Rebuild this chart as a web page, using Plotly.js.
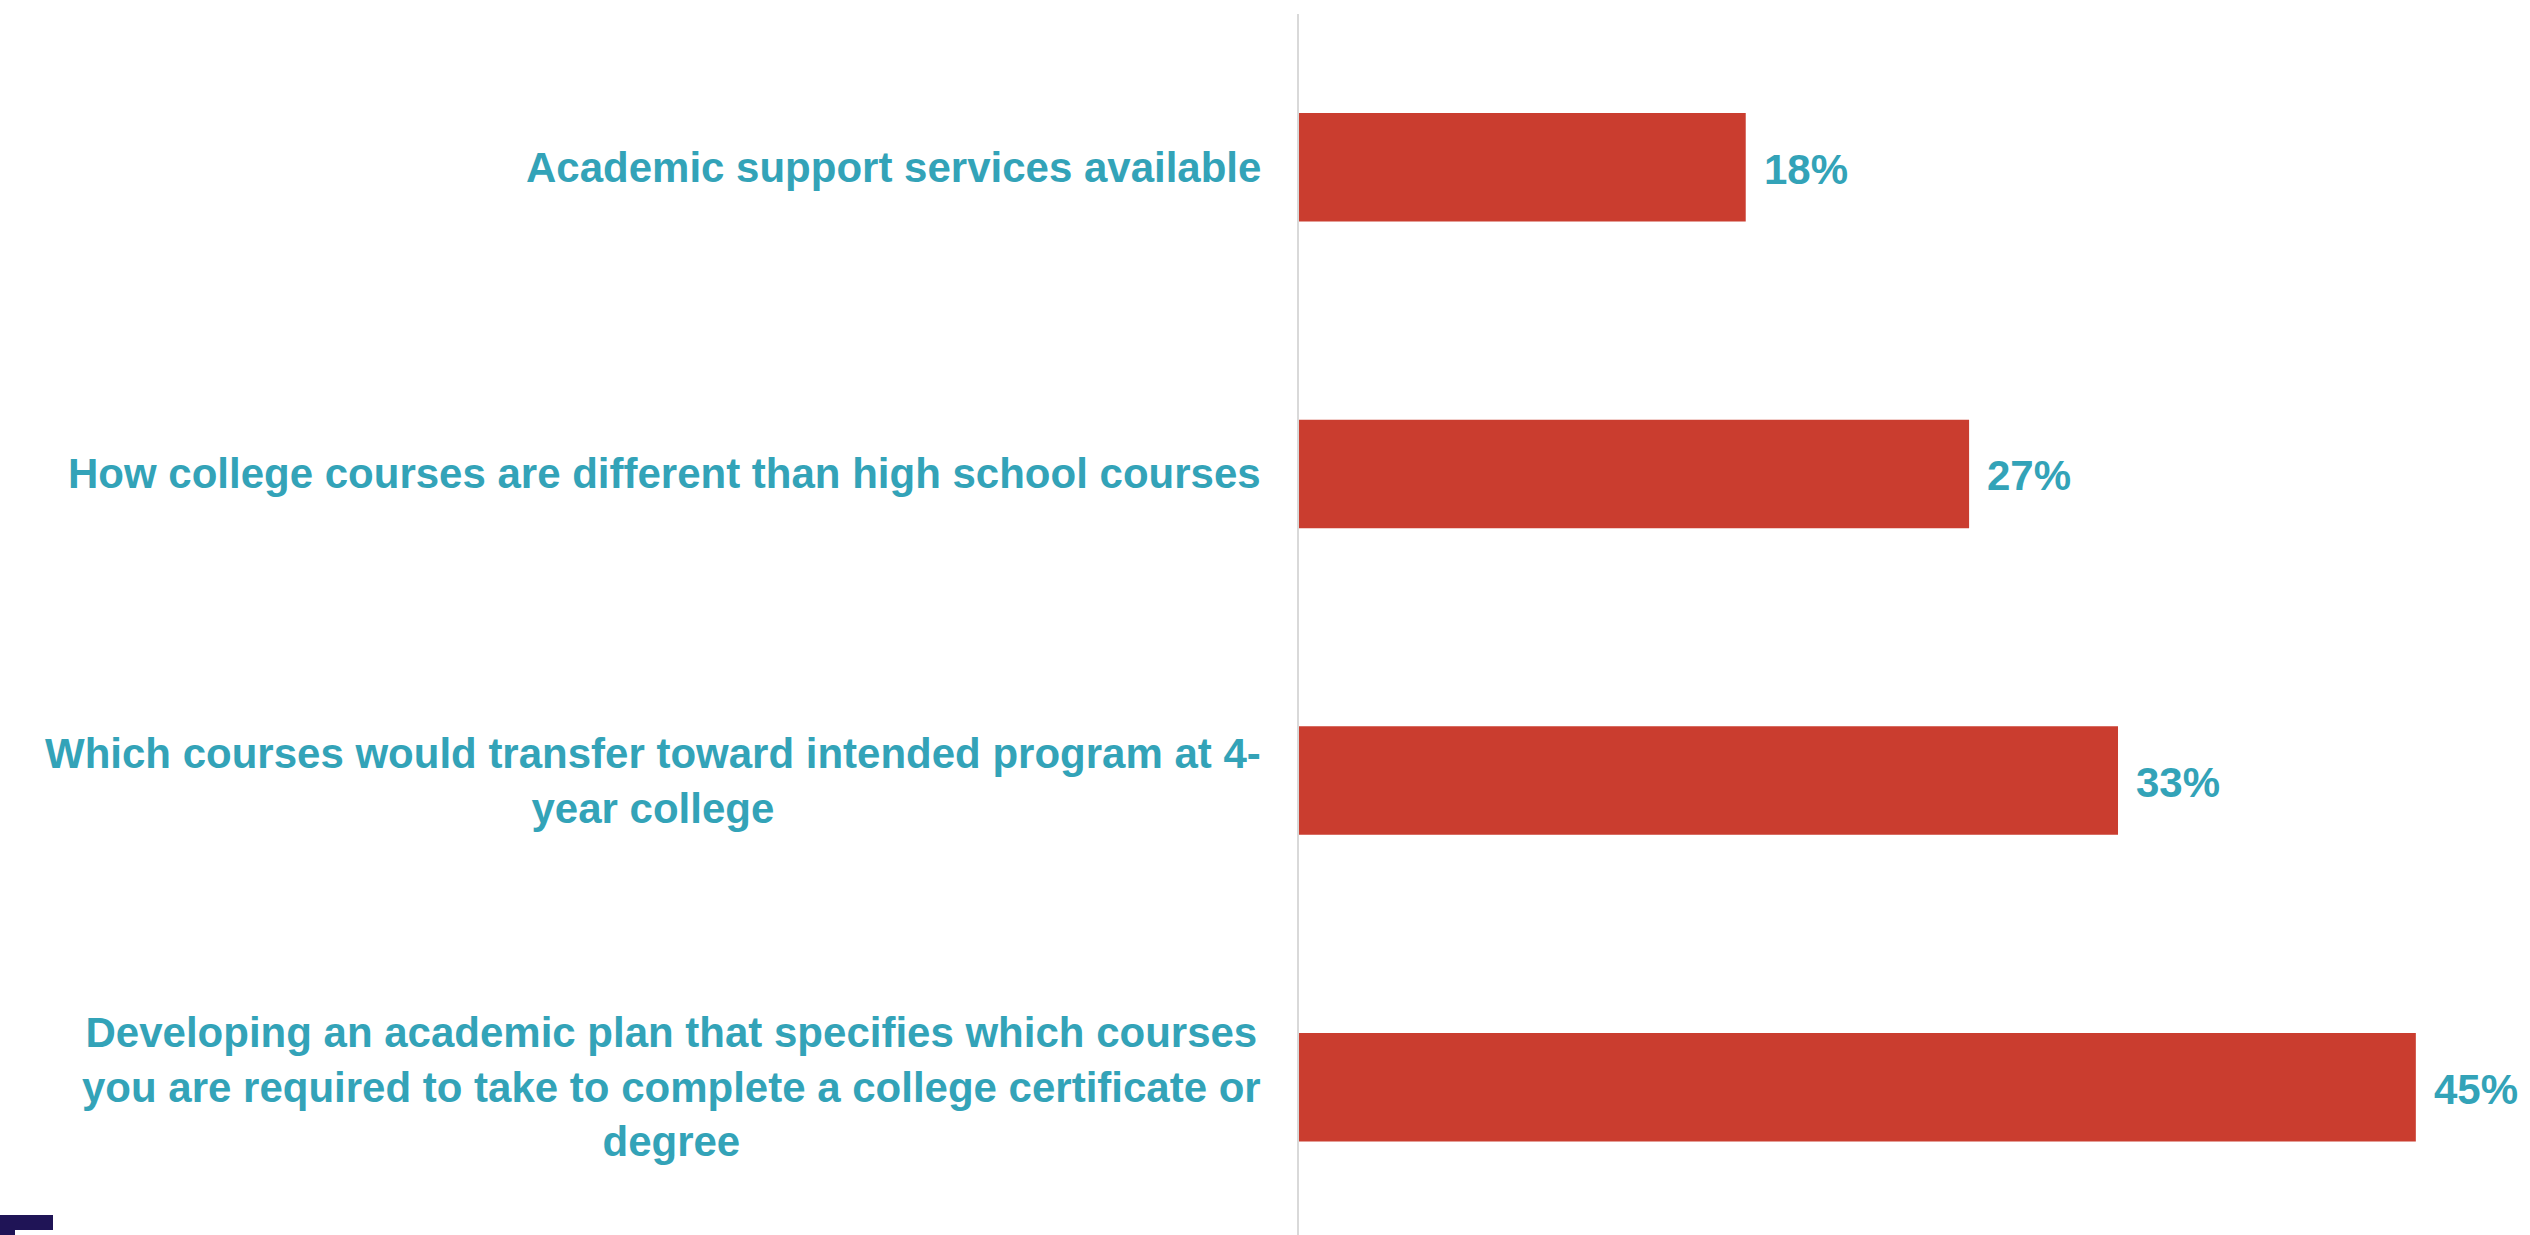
<!DOCTYPE html>
<html>
<head>
<meta charset="utf-8">
<script src="https://cdn.plot.ly/plotly-3.0.1.min.js"></script>
<style>
  html, body { margin: 0; padding: 0; background: #ffffff; }
  #chart { width: 2530px; height: 1235px; position: relative; }
  #logo1 { position: absolute; left: 0; top: 1215px; width: 53px; height: 15px; background: #1f1456; }
  #logo2 { position: absolute; left: 0; top: 1228px; width: 15px; height: 7px; background: #1f1456; }
</style>
</head>
<body>
<div id="chart"></div>
<div id="logo1"></div>
<div id="logo2"></div>
<script>
const categories = [
  "Academic support services available",
  "How college courses are different than high school courses",
  "Which courses would transfer toward intended program at 4-<br>year college",
  "Developing an academic plan that specifies which courses<br>you are required to take to complete a college certificate or<br>degree"
];
const values = [18, 27, 33, 45];
const valueLabels = ["18%", "27%", "33%", "45%"];

const teal = "#33a3b8";
const red = "#ca3d2f";
const fontFam = "'Liberation Sans', Arial, sans-serif";

const positions = categories.map((c, i) => i);

const trace = {
  type: "bar",
  orientation: "h",
  x: values,
  y: positions,
  marker: { color: red },
  hoverinfo: "none",
  showlegend: false
};

const annotations = [];
categories.forEach((c, i) => {
  annotations.push({
    xref: "x", yref: "y",
    x: 0, y: positions[i],
    xanchor: "right", yanchor: "middle",
    xshift: -36,
    align: "center",
    showarrow: false,
    text: c,
    font: { family: fontFam, size: 42, color: teal, weight: "bold" }
  });
  annotations.push({
    xref: "x", yref: "y",
    x: values[i], y: positions[i],
    xanchor: "left", yanchor: "middle",
    xshift: 16,
    yshift: -2,
    showarrow: false,
    text: valueLabels[i],
    font: { family: fontFam, size: 42, color: teal, weight: "bold" }
  });
});

const layout = {
  width: 2530,
  height: 1235,
  margin: { l: 1299, r: 0, t: 14, b: 0, pad: 0 },
  paper_bgcolor: "#ffffff",
  plot_bgcolor: "#ffffff",
  bargap: 0.646,
  xaxis: {
    range: [0, 49.6],
    visible: false,
    showgrid: false,
    zeroline: false
  },
  yaxis: {
    range: [3.482, -0.5],
    showticklabels: false,
    showgrid: false,
    zeroline: false,
    showline: true,
    linecolor: "#d9d9d9",
    linewidth: 2,
    ticks: ""
  },
  annotations: annotations,
  font: { family: fontFam }
};

Plotly.newPlot("chart", [trace], layout, { displayModeBar: false, staticPlot: true });
</script>
</body>
</html>
